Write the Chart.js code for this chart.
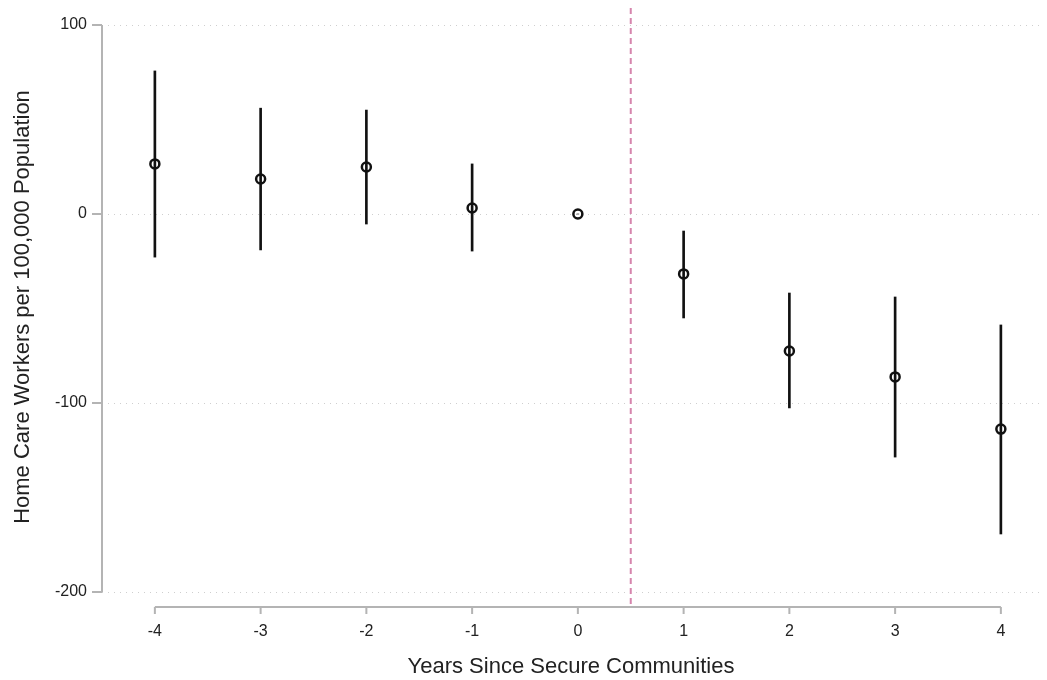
<!DOCTYPE html>
<html>
<head>
<meta charset="utf-8">
<script src="https://cdn.jsdelivr.net/npm/chart.js@4.4.0/dist/chart.umd.min.js"></script>
<style>
  html, body { margin: 0; padding: 0; background: #fff; }
  #wrap { width: 1047px; height: 680px; }
</style>
</head>
<body>
<div id="wrap"><canvas id="eventChart" width="1047" height="680"></canvas></div>
<script>
// Event study estimates with 95% intervals
const years = [-4, -3, -2, -1, 0, 1, 2, 3, 4];
const estimates = [26.5, 18.5, 24.9, 3.2, 0, -31.7, -72.5, -86.2, -113.8];
const lowerCI = [-22.8, -19, -5.3, -19.6, 0, -55, -102.6, -128.6, -169.3];
const upperCI = [75.7, 56, 55, 26.5, 0, -9, -41.8, -43.9, -58.7];
const yTicks = [-200, -100, 0, 100];
const xTicks = [-4, -3, -2, -1, 0, 1, 2, 3, 4];
const treatmentLine = 0.5;

const fontFamily = '"Liberation Sans Narrow", "Liberation Sans", Arial, sans-serif';

// Stata-style axes: lines only across the tick range, plus tick marks and the event line
const axisPlugin = {
    id: 'axisPlugin',
    beforeDatasetsDraw(chart) {
        const { ctx, chartArea, scales: { x } } = chart;
        const xp = x.getPixelForValue(treatmentLine);
        ctx.save();
        ctx.strokeStyle = '#d685ad';
        ctx.lineWidth = 2;
        ctx.setLineDash([6, 4]);
        ctx.beginPath();
        ctx.moveTo(xp, chartArea.top);
        ctx.lineTo(xp, chartArea.bottom);
        ctx.stroke();
        ctx.restore();
    },
    afterDraw(chart) {
        const { ctx, chartArea, scales: { x, y } } = chart;
        ctx.save();
        ctx.strokeStyle = '#b4b4b4';
        ctx.lineWidth = 2;
        // y axis
        const ax = chartArea.left;
        ctx.beginPath();
        ctx.moveTo(ax, y.getPixelForValue(yTicks[yTicks.length - 1]));
        ctx.lineTo(ax, y.getPixelForValue(yTicks[0]));
        yTicks.forEach(v => {
            const p = y.getPixelForValue(v);
            ctx.moveTo(ax, p);
            ctx.lineTo(ax - 10, p);
        });
        ctx.stroke();
        // x axis
        const ay = chartArea.bottom + 1;
        ctx.beginPath();
        ctx.moveTo(x.getPixelForValue(xTicks[0]), ay);
        ctx.lineTo(x.getPixelForValue(xTicks[xTicks.length - 1]), ay);
        xTicks.forEach(v => {
            const p = x.getPixelForValue(v);
            ctx.moveTo(p, ay);
            ctx.lineTo(p, ay + 7);
        });
        ctx.stroke();
        ctx.restore();
    }
};

const ctx = document.getElementById('eventChart').getContext('2d');
new Chart(ctx, {
    type: 'scatter',
    data: {
        datasets: [{
            type: 'bar',
            label: '95% CI',
            data: years.map((yr, i) => ({ x: yr, y: [lowerCI[i], upperCI[i]] })),
            backgroundColor: '#111',
            borderWidth: 0,
            barThickness: 2,
            order: 2
        }, {
            type: 'scatter',
            label: 'Estimate',
            data: years.map((yr, i) => ({ x: yr, y: estimates[i] })),
            pointRadius: 4.5,
            pointBorderWidth: 2.5,
            pointBorderColor: '#111',
            pointBackgroundColor: 'rgba(0,0,0,0)',
            order: 1
        }]
    },
    options: {
        responsive: false,
        animation: false,
        layout: { padding: { top: 8, right: 7, left: 0, bottom: 0 } },
        plugins: { legend: { display: false }, tooltip: { enabled: false } },
        scales: {
            x: {
                type: 'linear',
                offset: false,
                min: -4.5,
                max: 4.37,
                afterBuildTicks: s => { s.ticks = xTicks.map(v => ({ value: v })); },
                afterFit: s => { s.height = 74; s.paddingLeft = 0; s.paddingRight = 0; },
                grid: { display: false, drawTicks: false, offset: false },
                border: { display: false },
                ticks: {
                    padding: 16,
                    color: '#222',
                    font: { family: fontFamily, size: 16 }
                },
                title: {
                    display: true,
                    text: 'Years Since Secure Communities',
                    color: '#222',
                    padding: { top: 2, bottom: 0 },
                    font: { family: fontFamily, size: 22 }
                }
            },
            y: {
                min: -207.4,
                max: 109,
                afterBuildTicks: s => { s.ticks = yTicks.map(v => ({ value: v })); },
                afterFit: s => { s.width = 102; s.paddingTop = 0; s.paddingBottom = 0; },
                grid: { color: '#cfcfcf', lineWidth: 1, drawTicks: false },
                border: { display: false, dash: [1, 5] },
                ticks: {
                    padding: 15,
                    color: '#222',
                    font: { family: fontFamily, size: 16 }
                },
                title: {
                    display: true,
                    text: 'Home Care Workers per 100,000 Population',
                    color: '#222',
                    padding: { top: 10, bottom: 0 },
                    font: { family: fontFamily, size: 22 }
                }
            }
        }
    },
    plugins: [axisPlugin]
});
</script>
</body>
</html>
